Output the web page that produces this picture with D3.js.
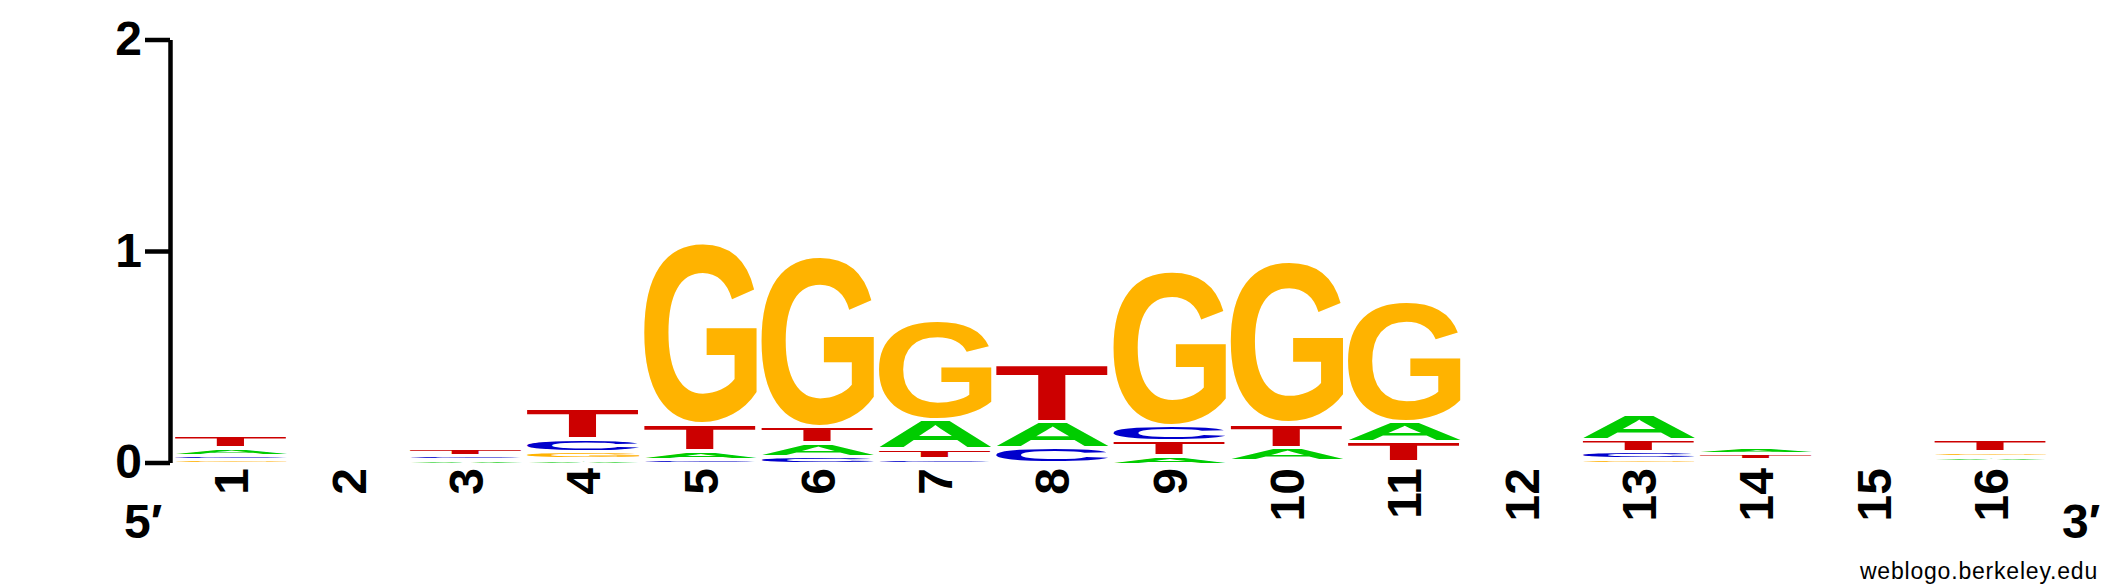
<!DOCTYPE html>
<html><head><meta charset="utf-8">
<script src="https://cdn.jsdelivr.net/npm/d3@7"></script>
<style>body{margin:0;background:#fff}svg{display:block}</style>
</head><body>
<svg id="chart" width="2125" height="588"></svg>
<script>
// ---- data (bits per base) ----
const positions = ["1","2","3","4","5","6","7","8","9","10","11","12","13","14","15","16"];
const valuesA = [0.035, 0, 0.019, 0.024, 0.043, 0.065, 0.139, 0.124, 0.038, 0.063, 0.095, 0, 0.123, 0.027, 0, 0.023];
const valuesC = [0.021, 0, 0.020, 0.060, 0.020, 0.035, 0.024, 0.072, 0.073, 0.015, 0.012, 0, 0.033, 0.012, 0, 0.013];
const valuesG = [0.020, 0, 0,     0.036, 0.856, 0.809, 0.471, 0.004, 0.733, 0.766, 0.570, 0, 0.025, 0.010, 0, 0.025];
const valuesT = [0.061, 0, 0.033, 0.145, 0.126, 0.076, 0.047, 0.272, 0.071, 0.116, 0.094, 0, 0.057, 0.026, 0, 0.058];
const yTicks = [0, 1, 2];
const bases = ["A", "C", "G", "T"];
const colors = {A: "#00CC00", C: "#0000CC", G: "#FFB300", T: "#CC0000"};

const series = {A: valuesA, C: valuesC, G: valuesG, T: valuesT};
const FONT = "'Liberation Sans', Arial, Helvetica, sans-serif";

const svg = d3.select("#chart");
const x = d3.scaleBand().domain(positions).range([172.85, 2049.65]).padding(0);
const y = d3.scaleLinear().domain([0, 2]).range([462.5, 39.5]);

// tight glyph metrics
const ctx = document.createElement("canvas").getContext("2d");
ctx.font = "bold 100px " + FONT;
const metrics = {};
bases.forEach(b => {
  const m = ctx.measureText(b);
  metrics[b] = {l: m.actualBoundingBoxLeft, r: m.actualBoundingBoxRight,
                a: m.actualBoundingBoxAscent, d: m.actualBoundingBoxDescent};
});

const gap = 3.5, sideGap = 2.15;
const logo = svg.append("g");
positions.forEach((p, i) => {
  const items = bases.map(b => ({b, v: series[b][i]})).filter(d => d.v > 0)
    .sort((a, c) => a.v - c.v);
  let cum = 0;
  items.forEach(it => {
    const y0 = y(cum), y1 = y(cum + it.v);
    cum += it.v;
    const top = y1 + gap, h = y0 - top;
    if (h < 0.3) return;
    const m = metrics[it.b];
    const w = x.bandwidth() - 2 * sideGap;
    const sx = w / (m.l + m.r), sy = h / (m.a + m.d);
    logo.append("text")
      .attr("transform", `translate(${x(p) + sideGap},${top}) scale(${sx},${sy}) translate(${m.l},${m.a})`)
      .attr("font-family", FONT).attr("font-weight", "bold").attr("font-size", 100)
      .attr("fill", colors[it.b]).text(it.b);
  });
});

// y axis
const axis = svg.append("g").attr("transform", "translate(170,0)")
  .call(d3.axisLeft(y).tickValues(yTicks).tickFormat(d3.format("d"))
    .tickSize(25).tickSizeOuter(0).tickPadding(3));
axis.select(".domain").attr("stroke", "#000").attr("stroke-width", 4.5);
axis.selectAll(".tick line").attr("stroke", "#000").attr("stroke-width", 4.5);
axis.selectAll(".tick text").attr("font-family", FONT).attr("font-weight", "bold")
  .attr("font-size", 48).attr("fill", "#000");

// position labels
svg.append("g").selectAll("text").data(positions).join("text")
  .attr("transform", d => `translate(${x(d) + x.bandwidth() / 2},468) rotate(-90)`)
  .attr("text-anchor", "end").attr("dy", "0.35em")
  .attr("font-family", FONT).attr("font-weight", "bold").attr("font-size", 48)
  .text(d => d);

// ends
svg.append("text").attr("x", 124).attr("y", 538).attr("font-family", FONT)
  .attr("font-weight", "bold").attr("font-size", 48).text("5\u2032");
svg.append("text").attr("x", 2062).attr("y", 538).attr("font-family", FONT)
  .attr("font-weight", "bold").attr("font-size", 48).text("3\u2032");
svg.append("text").attr("x", 2098).attr("y", 579).attr("text-anchor", "end")
  .attr("font-family", FONT).attr("font-size", 23).attr("letter-spacing", 0.8)
  .text("weblogo.berkeley.edu");
</script>
</body></html>
